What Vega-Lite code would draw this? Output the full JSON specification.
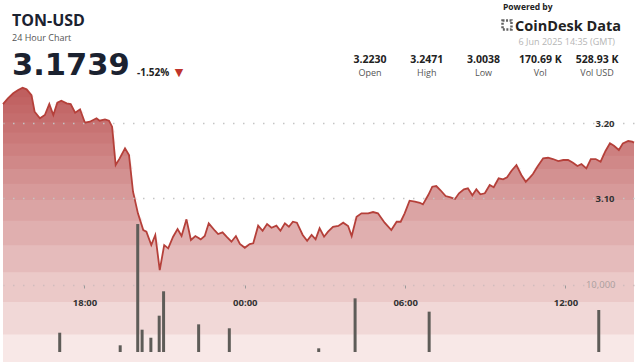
{
  "$schema": "https://vega.github.io/schema/vega-lite/v6.json",
  "width": 631,
  "height": 267,
  "autosize": {"type": "none"},
  "padding": {"left": 3, "top": 85, "right": 6, "bottom": 10},
  "background": "white",
  "config": {"view": {"stroke": null}, "font": "Open Sans"},
  "datasets": {
    "price": [
      {"t": "2025-06-05T14:57:00Z", "p": 3.2253},
      {"t": "2025-06-05T15:08:00Z", "p": 3.2329},
      {"t": "2025-06-05T15:20:00Z", "p": 3.2396},
      {"t": "2025-06-05T15:31:00Z", "p": 3.2440},
      {"t": "2025-06-05T15:41:00Z", "p": 3.2471},
      {"t": "2025-06-05T15:50:00Z", "p": 3.2449},
      {"t": "2025-06-05T16:01:00Z", "p": 3.2373},
      {"t": "2025-06-05T16:08:00Z", "p": 3.2151},
      {"t": "2025-06-05T16:20:00Z", "p": 3.2063},
      {"t": "2025-06-05T16:31:00Z", "p": 3.2107},
      {"t": "2025-06-05T16:41:00Z", "p": 3.2253},
      {"t": "2025-06-05T16:50:00Z", "p": 3.2107},
      {"t": "2025-06-05T16:59:00Z", "p": 3.2271},
      {"t": "2025-06-05T17:08:00Z", "p": 3.2297},
      {"t": "2025-06-05T17:20:00Z", "p": 3.2263},
      {"t": "2025-06-05T17:29:00Z", "p": 3.2253},
      {"t": "2025-06-05T17:39:00Z", "p": 3.2137},
      {"t": "2025-06-05T17:50:00Z", "p": 3.2183},
      {"t": "2025-06-05T18:01:00Z", "p": 3.2004},
      {"t": "2025-06-05T18:12:00Z", "p": 3.2017},
      {"t": "2025-06-05T18:27:00Z", "p": 3.2063},
      {"t": "2025-06-05T18:34:00Z", "p": 3.2031},
      {"t": "2025-06-05T18:46:00Z", "p": 3.2049},
      {"t": "2025-06-05T18:55:00Z", "p": 3.2031},
      {"t": "2025-06-05T19:02:00Z", "p": 3.1951},
      {"t": "2025-06-05T19:10:00Z", "p": 3.1440},
      {"t": "2025-06-05T19:19:00Z", "p": 3.1529},
      {"t": "2025-06-05T19:31:00Z", "p": 3.1663},
      {"t": "2025-06-05T19:40:00Z", "p": 3.1573},
      {"t": "2025-06-05T19:49:00Z", "p": 3.1084},
      {"t": "2025-06-05T20:00:00Z", "p": 3.0796},
      {"t": "2025-06-05T20:12:00Z", "p": 3.0573},
      {"t": "2025-06-05T20:19:00Z", "p": 3.0551},
      {"t": "2025-06-05T20:30:00Z", "p": 3.0373},
      {"t": "2025-06-05T20:39:00Z", "p": 3.0507},
      {"t": "2025-06-05T20:49:00Z", "p": 3.0038},
      {"t": "2025-06-05T20:59:00Z", "p": 3.0373},
      {"t": "2025-06-05T21:08:00Z", "p": 3.0329},
      {"t": "2025-06-05T21:19:00Z", "p": 3.0484},
      {"t": "2025-06-05T21:29:00Z", "p": 3.0587},
      {"t": "2025-06-05T21:38:00Z", "p": 3.0493},
      {"t": "2025-06-05T21:49:00Z", "p": 3.0716},
      {"t": "2025-06-05T21:59:00Z", "p": 3.0440},
      {"t": "2025-06-05T22:09:00Z", "p": 3.0493},
      {"t": "2025-06-05T22:21:00Z", "p": 3.0449},
      {"t": "2025-06-05T22:30:00Z", "p": 3.0493},
      {"t": "2025-06-05T22:39:00Z", "p": 3.0663},
      {"t": "2025-06-05T22:53:00Z", "p": 3.0564},
      {"t": "2025-06-05T23:00:00Z", "p": 3.0520},
      {"t": "2025-06-05T23:10:00Z", "p": 3.0543},
      {"t": "2025-06-05T23:19:00Z", "p": 3.0484},
      {"t": "2025-06-05T23:30:00Z", "p": 3.0417},
      {"t": "2025-06-05T23:40:00Z", "p": 3.0493},
      {"t": "2025-06-05T23:49:00Z", "p": 3.0387},
      {"t": "2025-06-06T00:00:00Z", "p": 3.0337},
      {"t": "2025-06-06T00:11:00Z", "p": 3.0387},
      {"t": "2025-06-06T00:19:00Z", "p": 3.0396},
      {"t": "2025-06-06T00:30:00Z", "p": 3.0631},
      {"t": "2025-06-06T00:40:00Z", "p": 3.0564},
      {"t": "2025-06-06T00:50:00Z", "p": 3.0653},
      {"t": "2025-06-06T01:00:00Z", "p": 3.0604},
      {"t": "2025-06-06T01:11:00Z", "p": 3.0631},
      {"t": "2025-06-06T01:20:00Z", "p": 3.0564},
      {"t": "2025-06-06T01:30:00Z", "p": 3.0663},
      {"t": "2025-06-06T01:39:00Z", "p": 3.0617},
      {"t": "2025-06-06T01:48:00Z", "p": 3.0684},
      {"t": "2025-06-06T01:57:00Z", "p": 3.0671},
      {"t": "2025-06-06T02:10:00Z", "p": 3.0507},
      {"t": "2025-06-06T02:20:00Z", "p": 3.0431},
      {"t": "2025-06-06T02:30:00Z", "p": 3.0507},
      {"t": "2025-06-06T02:39:00Z", "p": 3.0449},
      {"t": "2025-06-06T02:48:00Z", "p": 3.0596},
      {"t": "2025-06-06T02:58:00Z", "p": 3.0484},
      {"t": "2025-06-06T03:07:00Z", "p": 3.0551},
      {"t": "2025-06-06T03:18:00Z", "p": 3.0617},
      {"t": "2025-06-06T03:30:00Z", "p": 3.0627},
      {"t": "2025-06-06T03:41:00Z", "p": 3.0671},
      {"t": "2025-06-06T03:52:00Z", "p": 3.0627},
      {"t": "2025-06-06T04:00:00Z", "p": 3.0493},
      {"t": "2025-06-06T04:11:00Z", "p": 3.0751},
      {"t": "2025-06-06T04:22:00Z", "p": 3.0796},
      {"t": "2025-06-06T04:37:00Z", "p": 3.0796},
      {"t": "2025-06-06T04:48:00Z", "p": 3.0813},
      {"t": "2025-06-06T04:59:00Z", "p": 3.0796},
      {"t": "2025-06-06T05:14:00Z", "p": 3.0671},
      {"t": "2025-06-06T05:29:00Z", "p": 3.0573},
      {"t": "2025-06-06T05:41:00Z", "p": 3.0684},
      {"t": "2025-06-06T05:50:00Z", "p": 3.0684},
      {"t": "2025-06-06T05:59:00Z", "p": 3.0796},
      {"t": "2025-06-06T06:10:00Z", "p": 3.0964},
      {"t": "2025-06-06T06:22:00Z", "p": 3.0951},
      {"t": "2025-06-06T06:33:00Z", "p": 3.0937},
      {"t": "2025-06-06T06:40:00Z", "p": 3.0916},
      {"t": "2025-06-06T06:52:00Z", "p": 3.1040},
      {"t": "2025-06-06T07:01:00Z", "p": 3.1151},
      {"t": "2025-06-06T07:10:00Z", "p": 3.1160},
      {"t": "2025-06-06T07:19:00Z", "p": 3.1107},
      {"t": "2025-06-06T07:31:00Z", "p": 3.1027},
      {"t": "2025-06-06T07:42:00Z", "p": 3.1009},
      {"t": "2025-06-06T07:52:00Z", "p": 3.0987},
      {"t": "2025-06-06T08:01:00Z", "p": 3.1063},
      {"t": "2025-06-06T08:12:00Z", "p": 3.1116},
      {"t": "2025-06-06T08:21:00Z", "p": 3.1129},
      {"t": "2025-06-06T08:31:00Z", "p": 3.1036},
      {"t": "2025-06-06T08:40:00Z", "p": 3.1116},
      {"t": "2025-06-06T08:49:00Z", "p": 3.1049},
      {"t": "2025-06-06T08:59:00Z", "p": 3.1063},
      {"t": "2025-06-06T09:10:00Z", "p": 3.1173},
      {"t": "2025-06-06T09:19:00Z", "p": 3.1143},
      {"t": "2025-06-06T09:30:00Z", "p": 3.1263},
      {"t": "2025-06-06T09:40:00Z", "p": 3.1249},
      {"t": "2025-06-06T09:49:00Z", "p": 3.1276},
      {"t": "2025-06-06T09:59:00Z", "p": 3.1364},
      {"t": "2025-06-06T10:10:00Z", "p": 3.1440},
      {"t": "2025-06-06T10:21:00Z", "p": 3.1307},
      {"t": "2025-06-06T10:31:00Z", "p": 3.1217},
      {"t": "2025-06-06T10:40:00Z", "p": 3.1271},
      {"t": "2025-06-06T10:47:00Z", "p": 3.1320},
      {"t": "2025-06-06T10:57:00Z", "p": 3.1417},
      {"t": "2025-06-06T11:10:00Z", "p": 3.1529},
      {"t": "2025-06-06T11:21:00Z", "p": 3.1537},
      {"t": "2025-06-06T11:32:00Z", "p": 3.1520},
      {"t": "2025-06-06T11:44:00Z", "p": 3.1493},
      {"t": "2025-06-06T11:55:00Z", "p": 3.1507},
      {"t": "2025-06-06T12:06:00Z", "p": 3.1507},
      {"t": "2025-06-06T12:17:00Z", "p": 3.1471},
      {"t": "2025-06-06T12:27:00Z", "p": 3.1427},
      {"t": "2025-06-06T12:36:00Z", "p": 3.1453},
      {"t": "2025-06-06T12:47:00Z", "p": 3.1396},
      {"t": "2025-06-06T12:57:00Z", "p": 3.1520},
      {"t": "2025-06-06T13:08:00Z", "p": 3.1520},
      {"t": "2025-06-06T13:19:00Z", "p": 3.1484},
      {"t": "2025-06-06T13:30:00Z", "p": 3.1627},
      {"t": "2025-06-06T13:40:00Z", "p": 3.1729},
      {"t": "2025-06-06T13:49:00Z", "p": 3.1697},
      {"t": "2025-06-06T14:00:00Z", "p": 3.1640},
      {"t": "2025-06-06T14:09:00Z", "p": 3.1729},
      {"t": "2025-06-06T14:21:00Z", "p": 3.1760},
      {"t": "2025-06-06T14:30:00Z", "p": 3.1751},
      {"t": "2025-06-06T14:34:00Z", "p": 3.1739}
    ],
    "vol": [
      {"t": "2025-06-05T16:55:00Z", "v": 2880},
      {"t": "2025-06-05T19:13:00Z", "v": 1000},
      {"t": "2025-06-05T19:53:00Z", "v": 19100},
      {"t": "2025-06-05T20:03:00Z", "v": 3330},
      {"t": "2025-06-05T20:23:00Z", "v": 2130},
      {"t": "2025-06-05T20:42:00Z", "v": 5420},
      {"t": "2025-06-05T20:52:00Z", "v": 9060},
      {"t": "2025-06-05T22:12:00Z", "v": 4130},
      {"t": "2025-06-05T23:22:00Z", "v": 3540},
      {"t": "2025-06-06T02:46:00Z", "v": 550},
      {"t": "2025-06-06T04:09:00Z", "v": 8010},
      {"t": "2025-06-06T06:58:00Z", "v": 6020},
      {"t": "2025-06-06T13:25:00Z", "v": 6270}
    ],
    "stats": [
      {"stat": "Open", "value": "3.2230"},
      {"stat": "High", "value": "3.2471"},
      {"stat": "Low", "value": "3.0038"},
      {"stat": "Vol", "value": "170.69 K"},
      {"stat": "Vol USD", "value": "528.93 K"}
    ]
  },
  "layer": [
    {
      "data": {"name": "price"},
      "encoding": {
        "x": {
          "field": "t",
          "type": "temporal",
          "scale": {
            "type": "utc",
            "domain": [
              {"year": 2025, "month": 6, "date": 5, "hours": 14, "minutes": 57, "utc": true},
              {"year": 2025, "month": 6, "date": 6, "hours": 14, "minutes": 34, "utc": true}
            ]
          },
          "axis": {
            "orient": "bottom",
            "offset": -67,
            "values": [
              {"year": 2025, "month": 6, "date": 5, "hours": 18, "utc": true},
              {"year": 2025, "month": 6, "date": 6, "hours": 0, "utc": true},
              {"year": 2025, "month": 6, "date": 6, "hours": 6, "utc": true},
              {"year": 2025, "month": 6, "date": 6, "hours": 12, "utc": true}
            ],
            "labelExpr": "utcFormat(datum.value, '%H:%M')",
            "domain": false,
            "ticks": true,
            "tickSize": 3,
            "tickColor": "#9a9a9a",
            "labelPadding": 9,
            "labelFont": "Open Sans",
            "labelFontSize": 9.5,
            "labelFontWeight": "bold",
            "labelColor": "#333333",
            "grid": false,
            "title": null,
            "zindex": 1
          }
        }
      },
      "layer": [
        {
          "mark": {"type": "area", "fill": "#f8e8e7"},
          "encoding": {
            "y": {
              "field": "p",
              "type": "quantitative",
              "scale": {"domain": [2.8947, 3.2507], "zero": false, "nice": false},
              "axis": {
                "orient": "right",
                "offset": -20,
                "values": [3.1, 3.2],
                "format": ".2f",
                "labelAlign": "right",
                "labelPadding": 0,
                "domain": false,
                "ticks": false,
                "grid": true,
                "gridDash": [1.5, 8.5],
                "gridWidth": 1.5,
                "gridColor": "#c4c4c4",
                "labelFont": "Open Sans",
                "labelFontSize": 9.5,
                "labelFontWeight": "bold",
                "labelColor": "#333333",
                "title": null,
                "zindex": 1
              }
            }
          }
        },
        {"mark": {"type": "area", "fill": "#b23c37", "fillOpacity": 0.09}, "encoding": {"y": {"field": "p", "type": "quantitative", "scale": {"domain": [2.9180, 3.2507], "range": [249.525, 0], "clamp": true, "zero": false, "nice": false}, "axis": null}, "y2": {"datum": 2.9180}}},
        {"mark": {"type": "area", "fill": "#b23c37", "fillOpacity": 0.09}, "encoding": {"y": {"field": "p", "type": "quantitative", "scale": {"domain": [2.9614, 3.2507], "range": [216.975, 0], "clamp": true, "zero": false, "nice": false}, "axis": null}, "y2": {"datum": 2.9614}}},
        {"mark": {"type": "area", "fill": "#b23c37", "fillOpacity": 0.09}, "encoding": {"y": {"field": "p", "type": "quantitative", "scale": {"domain": [3.0010, 3.2507], "range": [187.275, 0], "clamp": true, "zero": false, "nice": false}, "axis": null}, "y2": {"datum": 3.0010}}},
        {"mark": {"type": "area", "fill": "#b23c37", "fillOpacity": 0.09}, "encoding": {"y": {"field": "p", "type": "quantitative", "scale": {"domain": [3.0370, 3.2507], "range": [160.275, 0], "clamp": true, "zero": false, "nice": false}, "axis": null}, "y2": {"datum": 3.0370}}},
        {"mark": {"type": "area", "fill": "#b23c37", "fillOpacity": 0.09}, "encoding": {"y": {"field": "p", "type": "quantitative", "scale": {"domain": [3.0697, 3.2507], "range": [135.75, 0], "clamp": true, "zero": false, "nice": false}, "axis": null}, "y2": {"datum": 3.0697}}},
        {"mark": {"type": "area", "fill": "#b23c37", "fillOpacity": 0.09}, "encoding": {"y": {"field": "p", "type": "quantitative", "scale": {"domain": [3.0974, 3.2507], "range": [114.975, 0], "clamp": true, "zero": false, "nice": false}, "axis": null}, "y2": {"datum": 3.0974}}},
        {"mark": {"type": "area", "fill": "#b23c37", "fillOpacity": 0.09}, "encoding": {"y": {"field": "p", "type": "quantitative", "scale": {"domain": [3.1190, 3.2507], "range": [98.775, 0], "clamp": true, "zero": false, "nice": false}, "axis": null}, "y2": {"datum": 3.1190}}},
        {"mark": {"type": "area", "fill": "#b23c37", "fillOpacity": 0.09}, "encoding": {"y": {"field": "p", "type": "quantitative", "scale": {"domain": [3.1386, 3.2507], "range": [84.075, 0], "clamp": true, "zero": false, "nice": false}, "axis": null}, "y2": {"datum": 3.1386}}},
        {"mark": {"type": "area", "fill": "#b23c37", "fillOpacity": 0.09}, "encoding": {"y": {"field": "p", "type": "quantitative", "scale": {"domain": [3.1564, 3.2507], "range": [70.725, 0], "clamp": true, "zero": false, "nice": false}, "axis": null}, "y2": {"datum": 3.1564}}},
        {"mark": {"type": "area", "fill": "#b23c37", "fillOpacity": 0.09}, "encoding": {"y": {"field": "p", "type": "quantitative", "scale": {"domain": [3.1727, 3.2507], "range": [58.5, 0], "clamp": true, "zero": false, "nice": false}, "axis": null}, "y2": {"datum": 3.1727}}},
        {"mark": {"type": "area", "fill": "#b23c37", "fillOpacity": 0.09}, "encoding": {"y": {"field": "p", "type": "quantitative", "scale": {"domain": [3.1875, 3.2507], "range": [47.4, 0], "clamp": true, "zero": false, "nice": false}, "axis": null}, "y2": {"datum": 3.1875}}},
        {"mark": {"type": "area", "fill": "#b23c37", "fillOpacity": 0.09}, "encoding": {"y": {"field": "p", "type": "quantitative", "scale": {"domain": [3.2010, 3.2507], "range": [37.275, 0], "clamp": true, "zero": false, "nice": false}, "axis": null}, "y2": {"datum": 3.2010}}},
        {"mark": {"type": "area", "fill": "#b23c37", "fillOpacity": 0.09}, "encoding": {"y": {"field": "p", "type": "quantitative", "scale": {"domain": [3.2132, 3.2507], "range": [28.125, 0], "clamp": true, "zero": false, "nice": false}, "axis": null}, "y2": {"datum": 3.2132}}},
        {"mark": {"type": "area", "fill": "#b23c37", "fillOpacity": 0.09}, "encoding": {"y": {"field": "p", "type": "quantitative", "scale": {"domain": [3.2243, 3.2507], "range": [19.8, 0], "clamp": true, "zero": false, "nice": false}, "axis": null}, "y2": {"datum": 3.2243}}},
        {"mark": {"type": "area", "fill": "#b23c37", "fillOpacity": 0.09}, "encoding": {"y": {"field": "p", "type": "quantitative", "scale": {"domain": [3.2344, 3.2507], "range": [12.225, 0], "clamp": true, "zero": false, "nice": false}, "axis": null}, "y2": {"datum": 3.2344}}},
        {"mark": {"type": "area", "fill": "#b23c37", "fillOpacity": 0.09}, "encoding": {"y": {"field": "p", "type": "quantitative", "scale": {"domain": [3.2437, 3.2507], "range": [5.25, 0], "clamp": true, "zero": false, "nice": false}, "axis": null}, "y2": {"datum": 3.2437}}},
        {
          "mark": {"type": "line", "color": "#b5403a", "strokeWidth": 1.8},
          "encoding": {
            "y": {"field": "p", "type": "quantitative", "scale": {"domain": [2.8947, 3.2507], "zero": false, "nice": false}, "axis": null}
          }
        }
      ],
      "resolve": {"scale": {"y": "independent"}}
    },
    {
      "data": {"name": "vol"},
      "mark": {"type": "bar", "width": 3, "color": "#5e5c58"},
      "encoding": {
        "x": {
          "field": "t",
          "type": "temporal",
          "scale": {
            "type": "utc",
            "domain": [
              {"year": 2025, "month": 6, "date": 5, "hours": 14, "minutes": 57, "utc": true},
              {"year": 2025, "month": 6, "date": 6, "hours": 14, "minutes": 34, "utc": true}
            ]
          },
          "axis": null
        },
        "y": {
          "field": "v",
          "type": "quantitative",
          "scale": {"domain": [0, 39850], "nice": false},
          "axis": {
            "orient": "right",
            "offset": -19,
            "values": [10000],
            "labelExpr": "format(datum.value, ',d')",
            "labelAlign": "right",
            "labelPadding": 0,
            "domain": false,
            "ticks": false,
            "grid": true,
            "gridDash": [1.5, 8.5],
            "gridWidth": 1.5,
            "gridColor": "#cfbcbc",
            "labelFont": "Open Sans",
            "labelFontSize": 9.5,
            "labelColor": "#ab9f9f",
            "title": null,
            "zindex": 1
          }
        }
      }
    },
    {
      "data": {"name": "stats"},
      "encoding": {
        "x": {
          "field": "stat",
          "type": "nominal",
          "scale": {"type": "point", "domain": ["Open", "High", "Low", "Vol", "Vol USD"], "range": [367, 594], "padding": 0},
          "axis": null
        }
      },
      "layer": [
        {
          "mark": {"type": "text", "y": -22, "baseline": "alphabetic", "align": "center", "font": "Open Sans", "fontSize": 10.5, "fontWeight": "bold", "color": "#222222"},
          "encoding": {"text": {"field": "value"}}
        },
        {
          "mark": {"type": "text", "y": -9, "baseline": "alphabetic", "align": "center", "font": "Open Sans", "fontSize": 9, "color": "#555555"},
          "encoding": {"text": {"field": "stat"}}
        }
      ]
    },
    {
      "data": {"values": [{"s": "TON-USD"}]},
      "mark": {"type": "text", "x": 9, "y": -59, "align": "left", "baseline": "alphabetic", "font": "Open Sans", "fontSize": 16, "fontWeight": "bold", "color": "#1b2230"},
      "encoding": {"text": {"field": "s"}}
    },
    {
      "data": {"values": [{"s": "24 Hour Chart"}]},
      "mark": {"type": "text", "x": 9, "y": -44.5, "align": "left", "baseline": "alphabetic", "font": "Open Sans", "fontSize": 9, "color": "#555555"},
      "encoding": {"text": {"field": "s"}}
    },
    {
      "data": {"values": [{"s": "3.1739"}]},
      "mark": {"type": "text", "x": 9, "y": -10, "align": "left", "baseline": "alphabetic", "font": "DejaVu Sans", "fontSize": 30.5, "fontWeight": "bold", "color": "#1b2230"},
      "encoding": {"text": {"field": "s"}}
    },
    {
      "data": {"values": [{"s": "-1.52%"}]},
      "mark": {"type": "text", "x": 134, "y": -9, "align": "left", "baseline": "alphabetic", "font": "Open Sans", "fontSize": 10, "fontWeight": "bold", "color": "#222222"},
      "encoding": {"text": {"field": "s"}}
    },
    {
      "data": {"values": [{"s": "▼"}]},
      "mark": {"type": "text", "x": 176, "y": -9, "align": "center", "baseline": "alphabetic", "font": "DejaVu Sans", "fontSize": 11, "color": "#c0342c"},
      "encoding": {"text": {"field": "s"}}
    },
    {
      "data": {"values": [{"s": "Powered by"}]},
      "mark": {"type": "text", "x": 500, "y": -75, "align": "left", "baseline": "alphabetic", "font": "Open Sans", "fontSize": 8.5, "fontWeight": "bold", "color": "#222222"},
      "encoding": {"text": {"field": "s"}}
    },
    {
      "data": {"values": [{"s": "logo"}]},
      "mark": {"type": "point", "shape": "square", "size": 80, "filled": false, "stroke": "#222222", "strokeWidth": 2.5, "strokeDash": [2, 1.5], "x": 504, "y": -60},
      "encoding": {}
    },
    {
      "data": {"values": [{"s": "CoinDesk Data"}]},
      "mark": {"type": "text", "x": 512, "y": -54, "align": "left", "baseline": "alphabetic", "font": "Open Sans", "fontSize": 14.5, "fontWeight": "bold", "color": "#222222"},
      "encoding": {"text": {"field": "s"}}
    },
    {
      "data": {"values": [{"s": "6 Jun 2025 14:35 (GMT)"}]},
      "mark": {"type": "text", "x": 612, "y": -40, "align": "right", "baseline": "alphabetic", "font": "Open Sans", "fontSize": 9, "color": "#b5b5b5"},
      "encoding": {"text": {"field": "s"}}
    }
  ],
  "resolve": {"scale": {"x": "independent", "y": "independent"}}
}
